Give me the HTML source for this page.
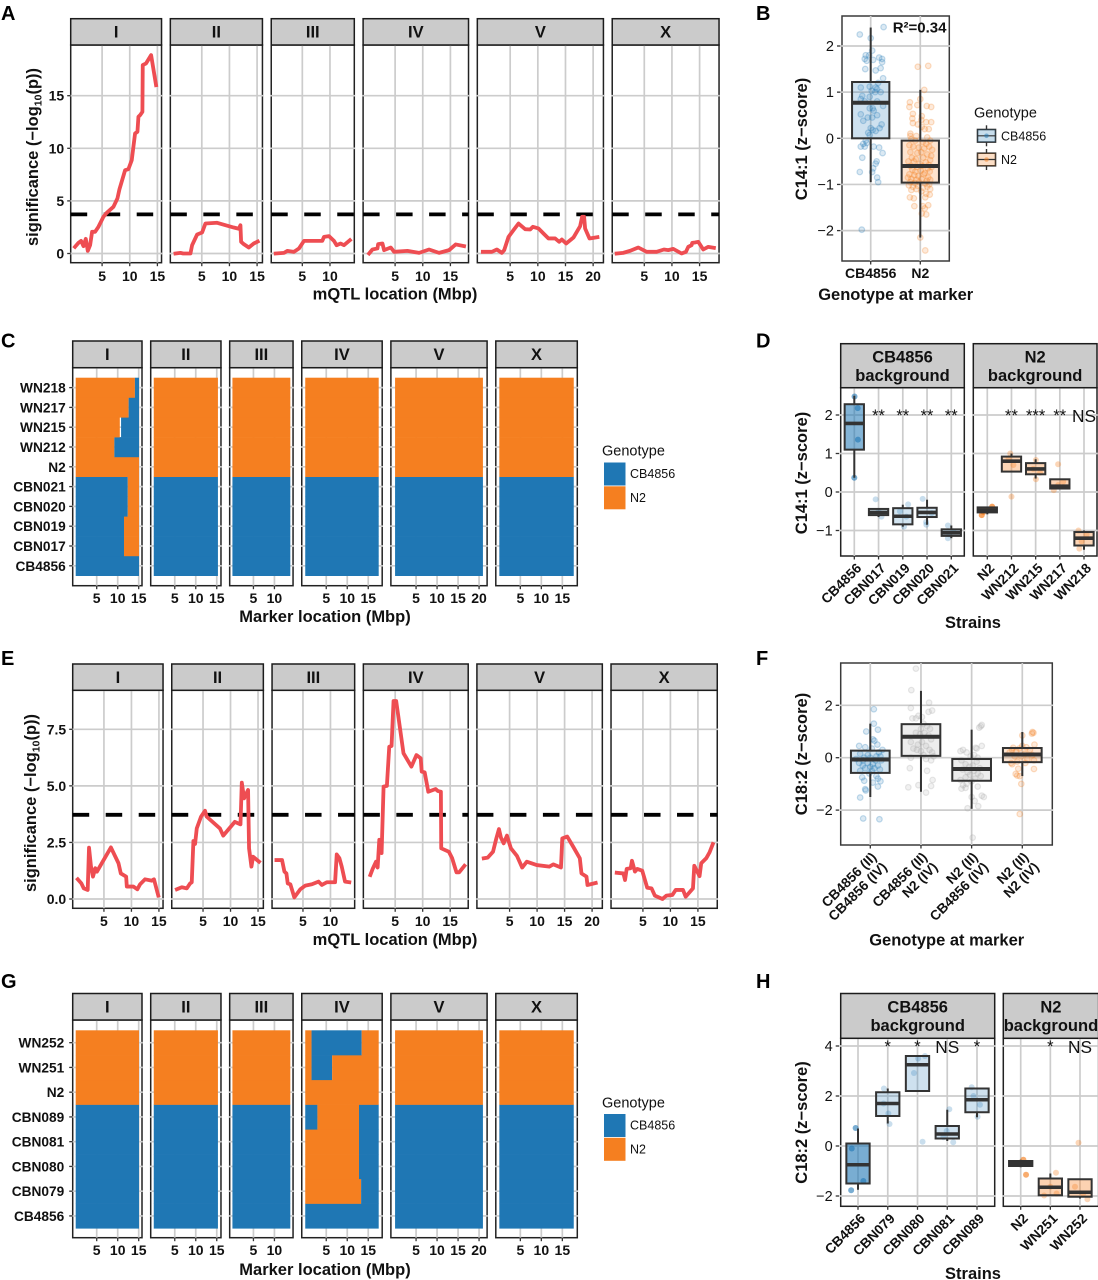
<!DOCTYPE html>
<html lang="en">
<head>
<meta charset="utf-8">
<title>mQTL mapping and near-isogenic line validation</title>
<style>
html,body{margin:0;padding:0;background:#fff;}
svg{display:block;font-family:"Liberation Sans",sans-serif;}
</style>
</head>
<body>
<svg id="figure" xmlns="http://www.w3.org/2000/svg" width="1098" height="1280" viewBox="0 0 1098 1280"></svg>
<script>
/* ---------- shared categories ---------- */
const chromNames = ['I','II','III','IV','V','X'];
const chromLengths = [15.07,15.28,13.78,17.49,20.92,17.72];
const chromTicks = [[5,10,15],[5,10,15],[5,10],[5,10,15],[5,10,15,20],[5,10,15]];
const sigThreshold = 3.72;

/* ---------- panel A: C14:1 mapping ---------- */
const aYTicks = [0,5,10,15];
const aPosI = [0.1,0.72,1.2,1.63,2.05,2.41,2.83,3.19,3.73,4.34,5.24,5.84,7.05,7.77,8.13,9.16,9.76,10.36,10.96,11.39,11.57,11.87,12.29,12.35,12.95,13.86,14.76];
const aSigI = [0.63,1.01,1.2,0.7,1.39,0.25,0.79,2.06,2.06,2.54,3.49,3.87,4.44,5.23,6.09,7.92,8.02,8.87,11.41,11.57,13.0,13.15,13.47,17.91,18.07,18.86,16.0];
const aPosII = [0.24,1.14,1.63,2.95,3.25,4.16,5.06,5.66,7.77,10.78,11.69,11.99,12.11,12.59,13.5,14.4,15.12];
const aSigII = [0,0.06,0,0,0.79,1.81,2.0,2.85,2.92,2.47,2.35,2.69,1.11,0.89,0.57,0.95,1.14];
const aPosIII = [0.18,1.69,2.29,3.49,4.4,5.3,8.61,8.92,9.82,10.72,11.2,11.93,12.53,13.61];
const aSigIII = [0,0.06,0.25,0.16,0.48,1.2,1.2,1.58,1.65,1.2,0.79,0.95,0.79,1.27];
const aPosIV = [0.3,0.9,1.81,1.93,2.71,3.01,4.22,4.82,7.23,9.34,11.14,12.95,14.76,15.96,17.47];
const aSigIV = [0,0.38,0.48,0.89,0.95,0.32,0.57,0.16,0.25,0.06,0.38,0.06,0.32,0.86,0.7];
const aPosV = [0.06,1.69,2.59,3.49,3.92,4.7,5.6,6.51,7.71,8.61,9.1,10.12,11.02,11.93,13.13,13.86,14.34,15.12,16.45,17.65,18.01,18.37,18.55,19.34,20.78];
const aSigV = [0.16,0.16,0.38,0.06,0.32,1.58,2.22,2.85,2.31,2.28,2.54,2.38,1.9,1.43,1.43,1.11,1.33,0.95,1.52,2.6,3.49,3.49,2.38,1.43,1.55];
const aPosX = [0,1.2,2.41,3.92,5.42,7.23,8.55,9.34,10.24,11.75,12.53,12.95,13.55,13.67,14.16,14.76,15.66,16.57,17.59];
const aSigX = [0,0.06,0.25,0.57,0.16,0.16,0.38,0.32,0.44,0,0.16,0.63,0.79,1.01,1.05,1.11,0.38,0.63,0.54];

/* ---------- panel E: C18:2 mapping ---------- */
const eYTicks = [0,2.5,5,7.5];
const eYTickLabels = ['0.0','2.5','5.0','7.5'];
const ePosI = [0.24,0.9,1.33,2.05,2.29,2.65,3.01,3.43,3.73,6.27,7.65,8.07,9.04,9.16,10.36,11.08,11.57,12.47,13.67,14.1,14.88];
const eSigI = [0.87,0.69,0.47,0.4,2.27,1.43,0.99,1.36,1.21,2.28,1.58,1.13,0.99,0.55,0.55,0.43,0.65,0.87,0.81,0.87,0.15];
const ePosII = [0.24,1.14,2.05,2.65,2.95,3.25,3.55,3.86,4.64,5.36,5.66,8.07,8.67,10.78,11.81,12.05,12.47,13.19,13.37,13.8,14.1,15.18];
const eSigII = [0.43,0.52,0.47,0.69,0.74,2.56,2.43,3.12,3.64,3.9,3.64,3.12,2.8,3.41,3.3,5.14,4.45,4.82,2.24,1.43,1.87,1.65];
const ePosIII = [0.18,1.2,1.63,1.99,2.23,2.71,3.43,4.52,5.42,6.63,7.83,8.43,9.34,10.84,11.14,11.63,12.05,12.65,13.43];
const eSigIII = [1.72,1.72,1.21,1.13,0.69,0.65,0.07,0.43,0.59,0.65,0.77,0.62,0.74,0.74,1.97,1.8,1.43,0.77,0.74];
const ePosIV = [0.48,0.9,1.51,1.81,2.11,2.53,2.89,3.49,3.92,4.34,4.7,5.18,6.51,7.95,8.86,9.64,9.82,10.36,11.02,12.35,12.77,13.31,13.37,14.76,15.36,16.14,16.63,17.59];
const eSigIV = [1.06,1.33,1.65,1.39,2.62,2.03,4.97,5.0,6.73,6.76,8.75,8.75,6.44,5.85,6.36,6.22,5.63,5.6,4.74,4.86,4.77,4.74,2.24,2.09,1.8,1.18,1.18,1.47];
const ePosV = [0.3,1.02,1.99,2.59,3.07,3.43,3.92,4.52,5.24,6.33,7.29,8.13,9.94,12.23,12.95,14.34,14.58,15.48,16.57,17.77,18.07,18.98,19.16,20.66];
const eSigV = [1.8,1.83,2.09,2.68,3.09,2.71,2.46,2.8,2.24,1.91,1.39,1.65,1.5,1.43,1.53,1.39,2.68,2.76,2.31,1.8,1.13,0.99,0.62,0.71];
const ePosX = [0.24,1.45,1.75,2.05,2.77,3.01,3.55,3.98,4.88,5.78,6.57,7.17,8.55,9.28,10.36,10.96,12.29,12.77,14.1,14.34,15.3,15.6,16.51,17.11,17.71];
const eSigX = [1.16,1.13,0.84,1.33,1.36,1.69,1.21,1.33,1.25,0.5,0.47,0.15,0,0.15,0.18,0.4,0.4,0.1,0.47,1.47,1.01,1.58,1.8,2.06,2.43];

/* ---------- panels C and G: genotype segments, values in Mb ---------- */
const cStrains = ['CB4856','CBN017','CBN019','CBN020','CBN021','N2','WN212','WN215','WN217','WN218'];
const cBackground = ['CB','CB','CB','CB','CB','N2','N2','N2','N2','N2'];
const cChromISegments = [
  [['CB',15.07]],
  [['CB',11.5],['N2',15.07]],
  [['CB',11.5],['N2',15.07]],
  [['CB',12.4],['N2',15.07]],
  [['CB',12.4],['N2',15.07]],
  [['N2',15.07]],
  [['N2',9.2],['CB',15.07]],
  [['N2',10.5],[null,10.8],['CB',15.07]],
  [['N2',12.6],['CB',15.07]],
  [['N2',14.1],['CB',15.07]]
];
const gStrains = ['CB4856','CBN079','CBN080','CBN081','CBN089','N2','WN251','WN252'];
const gBackground = ['CB','CB','CB','CB','CB','N2','N2','N2'];
const gChromIVSegments = [
  [['CB',17.49]],
  [['N2',13.3],['CB',17.49]],
  [['N2',12.8],['CB',17.49]],
  [['N2',12.8],['CB',17.49]],
  [['CB',2.9],['N2',12.8],['CB',17.49]],
  [['N2',17.49]],
  [['N2',1.5],['CB',6.4],['N2',17.49]],
  [['N2',1.5],['CB',13.44],['N2',17.49]]
];

/* ---------- panel B: genotype effect on C14:1 ---------- */
const bTicks = [-2,-1,0,1,2];
const bGroups = ['CB4856','N2'];
const bLow = [-0.95,-2.15];
const bQ1 = [0,-0.96];
const bMedian = [0.77,-0.6];
const bQ3 = [1.22,-0.05];
const bHigh = [2.4,1.05];
const bJitterCB = [-.22,.26,0,-.1,-.12,-.08,-.03,.03,.05,.17,.23,.23,.2,.1,-.11,.25,.15,-.02,.1,-.2,.02,.13,.2,.09,-.02,-.17,-.2,.13,-.12,.25,.04,.06,-.02,-.2,.13,-.06,.03,-.15,.22,0,.04,.1,-.05,.18,-.02,-.1,-.15,-.2,-.12,.06,.17,-.08,.24,-.17,.12,.1,.05,-.22,.03,.13,.15,-.18];
const bValueCB = [2.25,2.41,2.17,1.8,1.72,1.68,1.8,1.9,1.7,1.75,1.72,1.65,1.52,1.47,1.5,1.3,1.2,1.12,1.1,1.1,1.03,1.07,1,1,.9,.92,.85,.8,.8,.7,.65,.6,.65,.52,.5,.45,.45,.38,.3,.22,.18,.16,.12,.22,.07,-.05,-.12,-.18,-.18,-.18,-.2,-.1,-.32,-.42,-.5,-.55,-.65,-.73,-.73,-.85,-.95,-1.98];
const bJitterN2 = [-.05,.16,.08,0,-.21,-.22,-.06,.13,.22,-.15,-.16,.03,.02,-.15,.12,.22,-.05,.03,.09,.17,-.2,-.2,-.08,.14,-.18,-.1,.05,.2,.12,-.22,-.14,-.03,.08,.18,.24,-.2,-.06,.02,.14,.22,-.17,-.09,.06,.2,-.24,-.13,-.01,.11,.17,-.2,-.07,.04,.15,.23,-.16,-.1,.01,.09,.19,-.22,-.12,-.04,.07,.16,-.25,-.18,-.08,.03,.13,.2,-.2,-.11,-.02,.1,.18,-.23,-.15,-.05,.06,.14,.2,-.18,-.08,.02,.12,.19,-.21,-.13,.1,.16,-.12,.05,.09,.03,.12];
const bValueN2 = [1.55,1.57,1.05,.85,.78,.68,.72,.7,.68,.53,.43,.48,.4,.33,.35,.35,.3,.25,.2,.2,.1,.05,.05,.02,-.02,-.05,-.08,-.05,-.12,-.15,-.18,-.2,-.22,-.18,-.25,-.3,-.32,-.3,-.35,-.38,-.42,-.45,-.42,-.47,-.5,-.5,-.55,-.52,-.58,-.6,-.62,-.6,-.65,-.62,-.68,-.72,-.7,-.75,-.72,-.78,-.8,-.82,-.78,-.85,-.85,-.88,-.9,-.88,-.92,-.9,-.95,-.97,-.95,-.98,-1,-1.02,-1.05,-1.03,-1.07,-1.05,-1.1,-1.12,-1.1,-1.15,-1.2,-1.22,-1.28,-1.3,-1.28,-1.45,-1.47,-1.47,-1.52,-1.63,-1.65];
const bExtraJitterN2 = [0,.1];
const bExtraValueN2 = [-2.15,-2.43];
const bR2Label = 'R²=0.34';

/* ---------- panel D: strains on C14:1 ---------- */
const dTicks = [-1,0,1,2];
const dStrainsCB = ['CB4856','CBN017','CBN019','CBN020','CBN021'];
const dStrainsN2 = ['N2','WN212','WN215','WN217','WN218'];
const dLowCB = [0.37,-0.65,-0.9,-0.85,-1.2];
const dQ1CB = [1.1,-0.6,-0.84,-0.65,-1.14];
const dMedianCB = [1.78,-0.53,-0.63,-0.53,-1.06];
const dQ3CB = [2.28,-0.44,-0.42,-0.41,-0.97];
const dHighCB = [2.5,-0.44,-0.33,-0.2,-0.87];
const dLowN2 = [-0.58,0.53,0.35,0.09,-1.5];
const dQ1N2 = [-0.53,0.53,0.46,0.09,-1.39];
const dMedianN2 = [-0.47,0.8,0.6,0.15,-1.2];
const dQ3N2 = [-0.4,0.92,0.75,0.33,-1.04];
const dHighN2 = [-0.38,1.0,0.85,0.33,-1.0];
const dSignifCB = ['','**','**','**','**'];
const dSignifN2 = ['','**','***','**','NS'];
const dPointStrainCB = [0,0,0,0,1,1,1,2,2,2,2,3,3,3,3,4,4,4,4];
const dPointJitterCB = [.01,.14,.15,0,-.12,.12,0,.22,.05,-.12,.15,-.18,-.04,.19,-.03,-.14,-.14,.08,-.08];
const dPointValueCB = [2.48,2.18,1.36,.37,-.19,-.64,-.5,-.32,-.9,-.5,-.64,-.18,-.78,-.55,-.85,-.87,-1.2,-1.02,-1.1];
const dPointStrainN2 = [0,0,0,0,1,1,1,1,2,2,2,2,3,3,3,3,4,4,4,4];
const dPointJitterN2 = [-.23,.2,.04,-.16,-.05,0,.08,-.12,.01,.01,-.1,.18,-.07,-.25,-.07,.14,-.23,-.19,.11,-.1];
const dPointValueN2 = [-.6,-.38,-.47,-.52,1.0,-.12,.7,.87,.83,.33,.6,.5,.72,.05,.18,.27,-1.0,-1.47,-1.1,-1.28];

/* ---------- panel F: two-locus genotypes on C18:2 ---------- */
const fTicks = [-2,0,2];
const fGroupLine1 = ['CB4856 (II)','CB4856 (II)','N2 (II)','N2 (II)'];
const fGroupLine2 = ['CB4856 (IV)','N2 (IV)','CB4856 (IV)','N2 (IV)'];
const fLow = [-1.5,-1.3,-1.95,-0.7];
const fQ1 = [-0.58,0.07,-0.88,-0.17];
const fMedian = [-0.07,0.8,-0.43,0.12];
const fQ3 = [0.27,1.28,-0.05,0.37];
const fHigh = [1.3,2.55,1.07,0.98];
const fJitter1 = [.07,.07,-.08,.15,.05,.08,.14,-.22,-.1,.03,.24,.17,-.2,-.05,.12,.2,-.12,0,-.28,-.15,.1,.22,-.22,-.05,.05,.15,-.15,0,.08,-.1,.19,-.2,.03,-.02,.12,-.16,.15,-.12,.2,.05,.15,-.1,-.09,-.2,-.14,.18];
const fValue1 = [1.85,1.3,1,1.07,.7,.65,.5,.45,.4,.35,.3,.2,.15,.1,.05,.05,0,0,-.05,-.1,-.1,-.1,-.2,-.2,-.25,-.3,-.3,-.35,-.4,-.4,-.45,-.5,-.5,-.6,-.7,-.75,-.8,-.88,-.9,-.95,-1.1,-1.2,-1.25,-1.52,-2.32,-2.35];
const fJitter2 = [-.1,-.19,-.2,.16,.22,.15,-.05,.02,-.17,-.1,.05,.12,0,.18,-.1,.07,-.02,.15,.2,-.2,.02,-.06,.1,-.15,.17,-.08,0,.22,.05,.25,.1,-.2,.2,-.22,.12,.23,-.05,.2,-.25,.1];
const fValue2 = [3.4,2.58,1.9,2.1,1.8,1.75,1.6,1.55,1.5,1.5,1.3,1.2,1.1,1.1,.95,.95,.9,.85,.7,.6,.6,.5,.45,.35,.3,.3,.25,.2,.1,.05,-.05,0,-.1,-.4,-.5,-.85,-1.05,-1.08,-1.13,-1.33];
const fJitter3 = [.2,.18,.15,-.22,-.17,.1,.08,.2,-.1,.05,-.02,.12,-.2,.1,-.12,.02,-.05,.16,-.18,.05,-.08,.12,-.03,.18,-.12,.07,-.22,0,-.1,.12,-.17,-.2,-.12,0,.2,.24,.06,.13,-.08,.02];
const fValue3 = [1.25,1.2,1.15,.25,.3,.35,.38,.45,.2,.1,.05,0,-.1,-.15,-.25,-.3,-.35,-.4,-.45,-.5,-.55,-.6,-.65,-.7,-.75,-.8,-.85,-.9,-1,-1.1,-1.05,-1.18,-1.15,-1.5,-1.45,-1.5,-1.65,-1.85,-1.93,-3.05];
const fJitter4 = [.2,.19,0,.22,-.18,-.2,-.06,0,.24,.08,-.12,.15,-.25,.05,.2,-.15,-.02,.1,.23,-.22,-.1,.06,-.2,.23,-.08,-.13,-.1,-.05,-.02,-.05];
const fValue4 = [.98,.92,.85,.95,.38,.3,.35,.45,.5,.4,.25,.3,.2,.15,.1,.05,.05,-.05,-.1,-.2,-.15,-.2,-.25,-.43,-.42,-.62,-.68,-.7,-1,-2.15];

/* ---------- panel H: strains on C18:2 ---------- */
const hTicks = [-2,0,2,4];
const hStrainsCB = ['CB4856','CBN079','CBN080','CBN081','CBN089'];
const hStrainsN2 = ['N2','WN251','WN252'];
const hLowCB = [-1.75,0.9,2.2,0.2,1.15];
const hQ1CB = [-1.5,1.2,2.2,0.3,1.35];
const hMedianCB = [-0.75,1.7,3.25,0.48,1.85];
const hQ3CB = [0.1,2.15,3.6,0.8,2.3];
const hHighCB = [0.7,2.3,3.6,1.45,2.3];
const hLowN2 = [-0.85,-2.0,-2.1];
const hQ1N2 = [-0.8,-1.97,-2.03];
const hMedianN2 = [-0.7,-1.65,-1.85];
const hQ3N2 = [-0.6,-1.3,-1.33];
const hHighN2 = [-0.55,-1.1,-1.33];
const hSignifCB = ['','*','*','NS','*'];
const hSignifN2 = ['','*','NS'];
const hPointStrainCB = [0,0,0,0,1,1,1,1,2,2,2,2,3,3,3,3,4,4,4,4];
const hPointJitterCB = [-.08,-.21,.18,-.23,-.13,.06,.02,-.14,-.12,.17,.25,.02,.07,.2,-.02,-.13,-.18,.02,-.12,.1];
const hPointValueCB = [.72,-.1,-1.4,-1.77,2.3,.88,1.3,1.7,2.92,.17,3.6,3.5,1.47,.15,.6,.35,2.35,1.17,2,1.65];
const hPointStrainN2 = [0,0,0,1,1,1,1,2,2,2,2];
const hPointJitterN2 = [.09,.18,-.02,.19,-.21,0,.21,-.05,.25,-.17,.11];
const hPointValueN2 = [-.55,-1.15,-.67,-1.07,-1.98,-1.63,-1.9,.13,-2.13,-1.63,-1.9];

/* ---------- drawing helpers ---------- */
const svg = document.getElementById('figure');
const SVGNS = 'http://www.w3.org/2000/svg';
const BLUE = '#1f77b4', ORANGE = '#f57f20', GRAY = '#a6a6a6', RED = '#ee4d52';
const GRID = '#cccccc', DARK = '#222222', BOXC = '#333333';

function mk(tag, attrs, parent) {
  const el = document.createElementNS(SVGNS, tag);
  for (const k in attrs) el.setAttribute(k, attrs[k]);
  (parent || svg).appendChild(el);
  return el;
}
function txt(str, attrs, parent) {
  const el = mk('text', attrs, parent);
  el.textContent = str;
  return el;
}
function linear(d0, p0, d1, p1) {
  return function (v) { return p0 + (v - d0) * (p1 - p0) / (d1 - d0); };
}
function facets(left, gap, pxPerMb, expand, pad) {
  let cursor = left;
  return chromNames.map(function (name, i) {
    const span = chromLengths[i] * pxPerMb;
    const width = span * expand;
    const panel = {
      name: name, left: cursor, right: cursor + width,
      x: linear(0, cursor + span * pad, 1, cursor + span * pad + pxPerMb),
      ticks: chromTicks[i]
    };
    cursor += width + gap;
    return panel;
  });
}
function panelFrame(l, t, r, b, col, w) {
  const el = mk('rect', {x: l, y: t, width: r - l, height: b - t, fill: 'none', stroke: col || DARK, 'stroke-width': w || 1.5});
  
  
}
function strip(l, r, t, b, lines) {
  const el = mk('rect', {x: l, y: t, width: r - l, height: b - t, fill: '#cbcbcb', stroke: '#1c1c1c', 'stroke-width': 1.5});
  
  
  const c = (l + r) / 2;
  lines.forEach(function (line, i) {
    const base = lines.length === 1 ? (t + b) / 2 + 5.8 : t + 19 + i * 18.3;
    const label = txt(line, {x: c, y: base, 'text-anchor': 'middle', 'font-size': 16.5, 'font-weight': 'bold', fill: '#111'});
    
    
  });
}
function vGrid(x, t, b) {
  const el = mk('line', {x1: x, x2: x, y1: t, y2: b, stroke: GRID, 'stroke-width': 1.7});
  
  
}
function hGrid(y, l, r) {
  const el = mk('line', {x1: l, x2: r, y1: y, y2: y, stroke: GRID, 'stroke-width': 1.7});
  
  
}
function xTick(x, b, label, baseline) {
  const t = mk('line', {x1: x, x2: x, y1: b, y2: b + 3.5, stroke: BOXC, 'stroke-width': 1.3});
  
  
  if (label !== null) {
    const l = txt(label, {x: x, y: baseline, 'text-anchor': 'middle', 'font-size': 14, 'font-weight': 'bold', fill: '#111'});
    
    
  }
}
function yTick(y, left, label, weight, fontSize) {
  const t = mk('line', {x1: left - 3.5, x2: left, y1: y, y2: y, stroke: BOXC, 'stroke-width': 1.3});
  
  
  const l = txt(label, {x: left - 6.5, y: y + 5, 'text-anchor': 'end', 'font-size': fontSize || 14, 'font-weight': weight, fill: '#111'});
  
  
}
function axisTitleX(str, x, y) {
  const el = txt(str, {x: x, y: y, 'text-anchor': 'middle', 'font-size': 16.5, 'font-weight': 'bold', fill: '#111'});
  
  
}
function axisTitleY(str, x, y) {
  const el = txt(str, {transform: 'translate(' + x + ',' + y + ') rotate(-90)', 'text-anchor': 'middle', 'font-size': 16.5, 'font-weight': 'bold', fill: '#111'});
  
  
}
function panelLetter(str, x, y) {
  const el = txt(str, {x: x, y: y, 'font-size': 20, 'font-weight': 'bold', fill: '#000'});
  
  
}
function sigAxisTitle(x, y) {
  const el = mk('text', {transform: 'translate(' + x + ',' + y + ') rotate(-90)', 'text-anchor': 'middle', 'font-size': 16.5, 'font-weight': 'bold', fill: '#111'});
  
  
  const a = mk('tspan', {}, el); a.textContent = 'significance (−log';
  const s = mk('tspan', {dy: 3.5, 'font-size': 10.5}, el); s.textContent = '10';
  const c = mk('tspan', {dy: -3.5}, el); c.textContent = '(p))';
}

/* ---------- Manhattan-style mapping figure (A, E) ---------- */
function mappingFigure(cfg) {
  cfg.panels.forEach(function (p, i) {
    const bg = mk('rect', {x: p.left, y: cfg.stripBottom, width: p.right - p.left, height: cfg.bottom - cfg.stripBottom, fill: '#fff'});
    
    
    panelFrame(p.left, cfg.stripBottom, p.right, cfg.bottom);
    p.ticks.forEach(function (t) { vGrid(p.x(t), cfg.stripBottom, cfg.bottom); });
    cfg.yTicks.forEach(function (t) { hGrid(cfg.y(t), p.left - 0.7, p.right + 0.7); });
    p.ticks.forEach(function (t) { xTick(p.x(t), cfg.bottom, String(t), cfg.tickBase); });
    if (i === 0) {
      cfg.yTicks.forEach(function (t, k) { yTick(cfg.y(t), p.left, cfg.yLabels[k], 'bold'); });
    }
    const thr = mk('line', {x1: p.left, x2: p.right, y1: cfg.y(sigThreshold), y2: cfg.y(sigThreshold), stroke: '#000', 'stroke-width': 3.8, 'stroke-dasharray': '16.5 16.5'});
    
    
    const pts = cfg.pos[i].map(function (m, k) { return p.x(m).toFixed(2) + ',' + cfg.y(cfg.sig[i][k]).toFixed(2); }).join(' ');
    const line = mk('polyline', {points: pts, fill: 'none', stroke: RED, 'stroke-width': 3.8, 'stroke-linejoin': 'round', 'stroke-linecap': 'square'});
    
    
    strip(p.left, p.right, cfg.stripTop, cfg.stripBottom, [p.name]);
  });
}
mappingFigure({
  panels: facets(70.7, 8.8, 5.53, 1.09, 0.045),
  stripTop: 18.7, stripBottom: 45, bottom: 262.7, tickBase: 281,
  y: linear(0, 253.5, 15, 95.7),
  yTicks: aYTicks, yLabels: aYTicks.map(String),
  pos: [aPosI, aPosII, aPosIII, aPosIV, aPosV, aPosX],
  sig: [aSigI, aSigII, aSigIII, aSigIV, aSigV, aSigX]
});
mappingFigure({
  panels: facets(72.7, 8.7, 5.5, 1.09, 0.045),
  stripTop: 664, stripBottom: 690.3, bottom: 908.3, tickBase: 926,
  y: linear(0, 899, 7.5, 729.3),
  yTicks: eYTicks, yLabels: eYTickLabels,
  pos: [ePosI, ePosII, ePosIII, ePosIV, ePosV, ePosX],
  sig: [eSigI, eSigII, eSigIII, eSigIV, eSigV, eSigX]
});

/* ---------- genotype tile figure (C, G) ---------- */
function genotypeFigure(cfg) {
  const n = cfg.strains.length;
  const rowY = function (k) { return cfg.rowsTop + (n - 1 - k + 0.5) * cfg.rowH; };
  cfg.panels.forEach(function (p, i) {
    const bg = mk('rect', {x: p.left, y: cfg.stripBottom, width: p.right - p.left, height: cfg.bottom - cfg.stripBottom, fill: '#fff'});
    
    
    panelFrame(p.left, cfg.stripBottom, p.right, cfg.bottom);
    p.ticks.forEach(function (t) { vGrid(p.x(t), cfg.stripBottom, cfg.bottom); });
    cfg.strains.forEach(function (s, k) { hGrid(rowY(k), p.left - 0.7, p.right + 0.7); });
    cfg.strains.forEach(function (s, k) {
      const segs = cfg.special[i] ? cfg.special[i][k] : [[cfg.background[k], chromLengths[i]]];
      let start = 0;
      segs.forEach(function (seg) {
        if (seg[0]) {
          const r = mk('rect', {x: p.x(start), y: rowY(k) - cfg.rowH / 2, width: p.x(seg[1]) - p.x(start), height: cfg.rowH + 0.3, fill: seg[0] === 'CB' ? BLUE : ORANGE});
          
          
        }
        start = seg[1];
      });
    });
    p.ticks.forEach(function (t) { xTick(p.x(t), cfg.bottom, String(t), cfg.tickBase); });
    if (i === 0) {
      cfg.strains.forEach(function (s, k) {
        const tk = mk('line', {x1: p.left - 3.5, x2: p.left, y1: rowY(k), y2: rowY(k), stroke: BOXC, 'stroke-width': 1.3});
        
        
        const lb = txt(s, {x: p.left - cfg.labelGap, y: rowY(k) + 5, 'text-anchor': 'end', 'font-size': 13.7, 'font-weight': 'bold', fill: '#111'});
        
        
      });
    }
    strip(p.left, p.right, cfg.stripTop, cfg.stripBottom, [p.name]);
  });
}
const cgPanels = function () { return facets(72.7, 8.7, 4.2, 1.095, 0.0475); };
genotypeFigure({
  panels: cgPanels(), strains: cStrains, background: cBackground,
  special: [cChromISegments], rowsTop: 377.7, rowH: 19.8,
  stripTop: 341, stripBottom: 367.7, bottom: 585.7, tickBase: 603, labelGap: 7
});
genotypeFigure({
  panels: cgPanels(), strains: gStrains, background: gBackground,
  special: [null, null, null, gChromIVSegments], rowsTop: 1030.3, rowH: 24.75,
  stripTop: 993.5, stripBottom: 1020, bottom: 1237.7, tickBase: 1255, labelGap: 8.5
});

/* ---------- box-and-point helpers ---------- */
function point(x, y, r, color, fillOp, strokeOp) {
  const c = mk('circle', {cx: x, cy: y, r: r, fill: color, 'fill-opacity': fillOp, stroke: color, 'stroke-opacity': strokeOp, 'stroke-width': strokeOp ? 1.2 : 0});
  
  
}
function box(cx, w, y, lo, q1, med, q3, hi, color, fillOp, medW, lineW) {
  const upper = mk('line', {x1: cx, x2: cx, y1: y(q3), y2: y(hi), stroke: BOXC, 'stroke-width': lineW});
  
  
  const lower = mk('line', {x1: cx, x2: cx, y1: y(q1), y2: y(lo), stroke: BOXC, 'stroke-width': lineW});
  
  
  const body = mk('rect', {x: cx - w / 2, y: y(q3), width: w, height: y(q1) - y(q3), fill: color, 'fill-opacity': fillOp, stroke: BOXC, 'stroke-width': lineW});
  
  
  const m = mk('line', {x1: cx - w / 2, x2: cx + w / 2, y1: y(med), y2: y(med), stroke: BOXC, 'stroke-width': medW});
  
  
}
function rotatedLabel(str, x, y, size) {
  const el = txt(str, {transform: 'translate(' + x + ',' + y + ') rotate(-45)', 'text-anchor': 'end', 'font-size': size || 13.7, 'font-weight': 'bold', fill: '#111'});
  
  
}
function signif(str, x, y) {
  const isNS = str === 'NS';
  const el = txt(str, {x: x, y: isNS ? y + 12 : y + 11, 'text-anchor': 'middle', 'font-size': isNS ? 17.3 : 16.5, fill: '#111'});
  
  
}

/* ---------- panel B ---------- */
(function () {
  const L = 842, R = 949.3, T = 16, B = 261;
  const y = linear(0, 138.3, 2, 46);
  const x = linear(0, 870.7, 1, 920.3);
  panelFrame(L, T, R, B, '#3a3a3a', 1.5);
  bTicks.forEach(function (t) { hGrid(y(t), L - 0.7, R + 0.7); });
  bGroups.forEach(function (g, i) { vGrid(x(i), T, B); });
  bJitterCB.forEach(function (j, k) { point(x(0 + j), y(bValueCB[k]), 2.8, BLUE, 0.16, 0.26); });
  bJitterN2.forEach(function (j, k) { point(x(1 + j), y(bValueN2[k]), 2.8, ORANGE, 0.16, 0.26); });
  bExtraJitterN2.forEach(function (j, k) { point(x(1 + j), y(bExtraValueN2[k]), 2.8, ORANGE, 0.16, 0.26); });
  bGroups.forEach(function (g, i) {
    box(x(i), 37.3, y, bLow[i], bQ1[i], bMedian[i], bQ3[i], bHigh[i], i === 0 ? BLUE : ORANGE, 0.22, 4, 2);
    xTick(x(i), B, g, 278);
  });
  bTicks.forEach(function (t) { yTick(y(t), L - 1.5, String(t).replace('-', '−'), 'normal', 14.5); });
  const r2 = txt(bR2Label, {x: 892.7, y: 32.5, 'font-size': 15, 'font-weight': 'bold', fill: '#111'});
  
  
  axisTitleX('Genotype at marker', 895.7, 300);
  axisTitleY('C14:1 (z−score)', 807, 139);

  const legTitle = txt('Genotype', {x: 974, y: 117.5, 'font-size': 14.5, fill: '#111'});
  
  
  [['CB4856', BLUE, 135.8], ['N2', ORANGE, 159.5]].forEach(function (e) {
    const wh = mk('line', {x1: 986.5, x2: 986.5, y1: e[2] - 10.5, y2: e[2] + 10.5, stroke: BOXC, 'stroke-width': 1.4});
    
    
    const kb = mk('rect', {x: 977.5, y: e[2] - 6.3, width: 18, height: 12.6, fill: '#fff', stroke: BOXC, 'stroke-width': 1.6});
    
    
    const kf = mk('rect', {x: 977.5, y: e[2] - 6.3, width: 18, height: 12.6, fill: e[1], 'fill-opacity': 0.25, stroke: 'none'});
    
    
    const km = mk('line', {x1: 977.5, x2: 995.5, y1: e[2], y2: e[2], stroke: BOXC, 'stroke-width': 1.2});
    
    
    const kd = mk('circle', {cx: 986.5, cy: e[2], r: 2.3, fill: e[1], 'fill-opacity': 0.5});
    
    
    const kl = txt(e[0], {x: 1001, y: e[2] + 4.5, 'font-size': 12.5, fill: '#111'});
    
    
  });
})();

/* ---------- genotype legends for C, G ---------- */
function tileLegend(titleBase, top) {
  const t = txt('Genotype', {x: 602, y: titleBase, 'font-size': 14.5, fill: '#111'});
  
  
  [['CB4856', BLUE, top], ['N2', ORANGE, top + 23.8]].forEach(function (e) {
    const s = mk('rect', {x: 604, y: e[2], width: 21.5, height: 23, fill: e[1]});
    
    
    const l = txt(e[0], {x: 630, y: e[2] + 15.5, 'font-size': 12.5, fill: '#111'});
    
    
  });
}
tileLegend(455.5, 462.5);
tileLegend(1107.5, 1114);
axisTitleX('mQTL location (Mbp)', 395, 299.5);
axisTitleX('Marker location (Mbp)', 325, 622);
axisTitleX('mQTL location (Mbp)', 395, 945);
axisTitleX('Marker location (Mbp)', 325, 1275);
sigAxisTitle(38, 157);
sigAxisTitle(36, 803);

/* ---------- faceted strain boxplots (D, H) ---------- */
function strainFigure(cfg) {
  cfg.facetsList.forEach(function (f, i) {
    panelFrame(f.left, cfg.stripBottom, f.right, cfg.bottom);
    cfg.ticks.forEach(function (t) { hGrid(cfg.y(t), f.left - 0.7, f.right + 0.7); });
    f.strains.forEach(function (s, k) { vGrid(f.x(k), cfg.stripBottom, cfg.bottom); });
    f.pStrain.forEach(function (s, k) {
      const strong = s === 0;
      point(f.x(s + f.pJit[k]), cfg.y(f.pVal[k]), cfg.pr, f.color, strong ? f.strongOp : f.weakOp, 0);
    });
    f.strains.forEach(function (s, k) {
      box(f.x(k), cfg.boxW, cfg.y, f.low[k], f.q1[k], f.med[k], f.q3[k], f.high[k], f.color, k === 0 ? f.strongBox : f.weakBox, 3.6, 2);
      xTick(f.x(k), cfg.bottom, null, 0);
      rotatedLabel(s, f.x(k) + 8, cfg.bottom + 13);
    });
    if (i === 0) {
      cfg.ticks.forEach(function (t) { yTick(cfg.y(t), f.left - 1.5, String(t).replace('-', '−'), 'normal', 14.5); });
    }
    strip(f.left, f.right, cfg.stripTop, cfg.stripBottom, f.stripLines);
    f.strains.forEach(function (s, k) {
      if (f.sig[k]) { signif(f.sig[k], f.x(k), cfg.sigY); }
    });
  });
}
strainFigure({
  stripTop: 343.7, stripBottom: 387.7, bottom: 556, y: linear(0, 492, 2, 415), ticks: dTicks, boxW: 19.3, pr: 3, sigY: 410,
  facetsList: [
    {left: 840.7, right: 964.3, x: linear(0, 854.3, 4, 951.3), strains: dStrainsCB, stripLines: ['CB4856', 'background'], color: BLUE,
     low: dLowCB, q1: dQ1CB, med: dMedianCB, q3: dQ3CB, high: dHighCB, sig: dSignifCB,
     pStrain: dPointStrainCB, pJit: dPointJitterCB, pVal: dPointValueCB, strongOp: 0.6, weakOp: 0.24, strongBox: 0.55, weakBox: 0.2},
    {left: 973.3, right: 1097, x: linear(0, 987.3, 4, 1084), strains: dStrainsN2, stripLines: ['N2', 'background'], color: ORANGE,
     low: dLowN2, q1: dQ1N2, med: dMedianN2, q3: dQ3N2, high: dHighN2, sig: dSignifN2,
     pStrain: dPointStrainN2, pJit: dPointJitterN2, pVal: dPointValueN2, strongOp: 0.7, weakOp: 0.32, strongBox: 0.6, weakBox: 0.33}
  ]
});
strainFigure({
  stripTop: 993.5, stripBottom: 1038.3, bottom: 1206.3, y: linear(0, 1146, 2, 1096), ticks: hTicks, boxW: 23.3, pr: 3, sigY: 1041,
  facetsList: [
    {left: 840.7, right: 994.7, x: linear(0, 858, 4, 977), strains: hStrainsCB, stripLines: ['CB4856', 'background'], color: BLUE,
     low: hLowCB, q1: hQ1CB, med: hMedianCB, q3: hQ3CB, high: hHighCB, sig: hSignifCB,
     pStrain: hPointStrainCB, pJit: hPointJitterCB, pVal: hPointValueCB, strongOp: 0.6, weakOp: 0.24, strongBox: 0.6, weakBox: 0.22},
    {left: 1003.3, right: 1098.6, x: linear(0, 1020.7, 2, 1080), strains: hStrainsN2, stripLines: ['N2', 'background'], color: ORANGE,
     low: hLowN2, q1: hQ1N2, med: hMedianN2, q3: hQ3N2, high: hHighN2, sig: hSignifN2,
     pStrain: hPointStrainN2, pJit: hPointJitterN2, pVal: hPointValueN2, strongOp: 0.65, weakOp: 0.32, strongBox: 0.6, weakBox: 0.35}
  ]
});
axisTitleY('C14:1 (z−score)', 807, 473);
axisTitleX('Strains', 973, 628);
axisTitleY('C18:2 (z−score)', 807, 1122.5);
axisTitleX('Strains', 973, 1279);

/* ---------- panel F ---------- */
(function () {
  const L = 840.7, R = 1052.3, T = 663, B = 845;
  const y = linear(0, 757.7, 2, 705.3);
  const x = linear(0, 870.3, 3, 1022.3);
  const colors = [BLUE, GRAY, GRAY, ORANGE];
  const jit = [fJitter1, fJitter2, fJitter3, fJitter4];
  const val = [fValue1, fValue2, fValue3, fValue4];
  panelFrame(L, T, R, B, '#3a3a3a', 1.5);
  fTicks.forEach(function (t) { hGrid(y(t), L - 0.7, R + 0.7); });
  fMedian.forEach(function (m, i) { vGrid(x(i), T, B); });
  jit.forEach(function (group, i) {
    group.forEach(function (j, k) { point(x(i + j), y(val[i][k]), 2.8, colors[i], 0.16, 0.26); });
  });
  fMedian.forEach(function (m, i) {
    box(x(i), 38.7, y, fLow[i], fQ1[i], m, fQ3[i], fHigh[i], colors[i], 0.2, 4, 2);
    xTick(x(i), B, null, 0);
    rotatedLabel(fGroupLine1[i], x(i) + 7, B + 13);
    rotatedLabel(fGroupLine2[i], x(i) + 17.5, B + 23);
  });
  fTicks.forEach(function (t) { yTick(y(t), L - 1.5, String(t).replace('-', '−'), 'normal', 14.5); });
  axisTitleX('Genotype at marker', 946.7, 945.5);
  axisTitleY('C18:2 (z−score)', 807, 754);
})();

panelLetter('A', 1, 20);
panelLetter('B', 756, 20);
panelLetter('C', 1, 347.7);
panelLetter('D', 756, 347.7);
panelLetter('E', 1, 665);
panelLetter('F', 756, 665);
panelLetter('G', 1, 988);
panelLetter('H', 756, 988);
</script>
</body>
</html>
